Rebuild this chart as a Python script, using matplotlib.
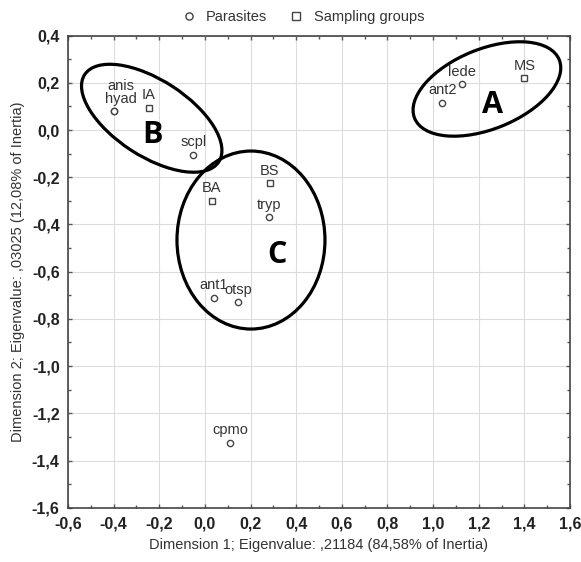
import matplotlib
matplotlib.use("Agg")
import matplotlib.pyplot as plt
from matplotlib.patches import Ellipse
from matplotlib.ticker import MultipleLocator, FuncFormatter
from matplotlib.transforms import ScaledTranslation

plt.rcParams['font.family'] = ['Liberation Sans', 'DejaVu Sans']

# Correspondence analysis coordinates
parasites = ['anis', 'hyad', 'scpl', 'lede', 'ant2', 'tryp', 'ant1', 'otsp', 'cpmo']
par_x = [-0.40, -0.40, -0.05, 1.125, 1.04, 0.28, 0.04, 0.145, 0.11]
par_y = [0.08, 0.08, -0.105, 0.195, 0.115, -0.37, -0.71, -0.73, -1.325]

groups = ['IA', 'MS', 'BS', 'BA']
grp_x = [-0.245, 1.40, 0.285, 0.03]
grp_y = [0.095, 0.22, -0.225, -0.30]

# Cluster outlines: centre (data), width/height (inches), angle
clusters = ['A', 'B', 'C']
clu_x = [1.236, -0.233, 0.202]
clu_y = [0.174, 0.050, -0.466]
clu_w = [1.56, 1.60, 1.48]
clu_h = [0.80, 0.76, 1.78]
clu_ang = [22, -33, 0]
letter_x = [1.262, -0.228, 0.316]
letter_y = [0.106, -0.021, -0.529]

TXT = '#333333'

fig = plt.figure(figsize=(5.81, 5.62), dpi=100)
ax = fig.add_axes([0.117, 0.0966, 0.864, 0.84])

ax.set_xlim(-0.6, 1.6)
ax.set_ylim(-1.6, 0.4)

ax.plot(par_x, par_y, 'o', ms=4.5, mfc='white', mec='#444444', mew=1.0,
        ls='none', label='Parasites', zorder=3)
ax.plot(grp_x, grp_y, 's', ms=5, mfc='white', mec='#444444', mew=1.0,
        ls='none', label='Sampling groups', zorder=3)

# point labels, centred just above each marker
for name, x, y in zip(parasites, par_x, par_y):
    dx, dy = 0, 9
    if name == 'hyad':
        dx = 5
    if name == 'anis':
        dx, dy = 5, 18
    ax.annotate(name, (x, y), xytext=(dx, dy), textcoords='offset points',
                ha='center', va='center', fontsize=10.5, color=TXT)
for name, x, y in zip(groups, grp_x, grp_y):
    ax.annotate(name, (x, y), xytext=(0, 9), textcoords='offset points',
                ha='center', va='center', fontsize=10.5, color=TXT)

# cluster ellipses
for i, lab in enumerate(clusters):
    tr = fig.dpi_scale_trans + ScaledTranslation(clu_x[i], clu_y[i], ax.transData)
    e = Ellipse((0, 0), clu_w[i], clu_h[i], angle=clu_ang[i], transform=tr,
                fill=False, ec='black', lw=2.3, zorder=4)
    ax.add_patch(e)
    ax.text(letter_x[i], letter_y[i], lab, fontsize=22, fontweight='bold',
            ha='center', va='center', color='black',
            family=['Open Sans', 'DejaVu Sans'])

# axes styling
ax.xaxis.set_major_locator(MultipleLocator(0.2))
ax.yaxis.set_major_locator(MultipleLocator(0.2))
ax.xaxis.set_minor_locator(MultipleLocator(0.1))
ax.yaxis.set_minor_locator(MultipleLocator(0.1))
comma = FuncFormatter(lambda v, p: f"{v:.1f}".replace('.', ','))
ax.xaxis.set_major_formatter(comma)
ax.yaxis.set_major_formatter(comma)
ax.tick_params(which='major', direction='in', length=3, width=1, color='#555555',
               top=True, right=True)
ax.tick_params(which='minor', direction='in', length=2, width=1, color='#555555',
               top=True, right=True)
ax.tick_params(which='major', labelsize=11.5, labelcolor='#222222', pad=6)
for lbl in ax.get_xticklabels() + ax.get_yticklabels():
    lbl.set_fontweight('bold')
ax.grid(True, which='major', color='#dcdcdc', lw=0.8)
ax.set_axisbelow(True)
for sp in ax.spines.values():
    sp.set_color('#444444')
    sp.set_linewidth(1.2)

ax.set_xlabel('Dimension 1; Eigenvalue: ,21184 (84,58% of Inertia)',
              fontsize=10.5, color=TXT, labelpad=5)
ax.set_ylabel('Dimension 2; Eigenvalue: ,03025 (12,08% of Inertia)',
              fontsize=10.5, color=TXT, labelpad=5)

fig.legend(loc='upper center', bbox_to_anchor=(0.515, 1.005), ncol=2,
           frameon=False, fontsize=10.5, handletextpad=0.2, columnspacing=1.0,
           markerscale=1.15, labelcolor=TXT)

fig.savefig('out.png', dpi=100)
